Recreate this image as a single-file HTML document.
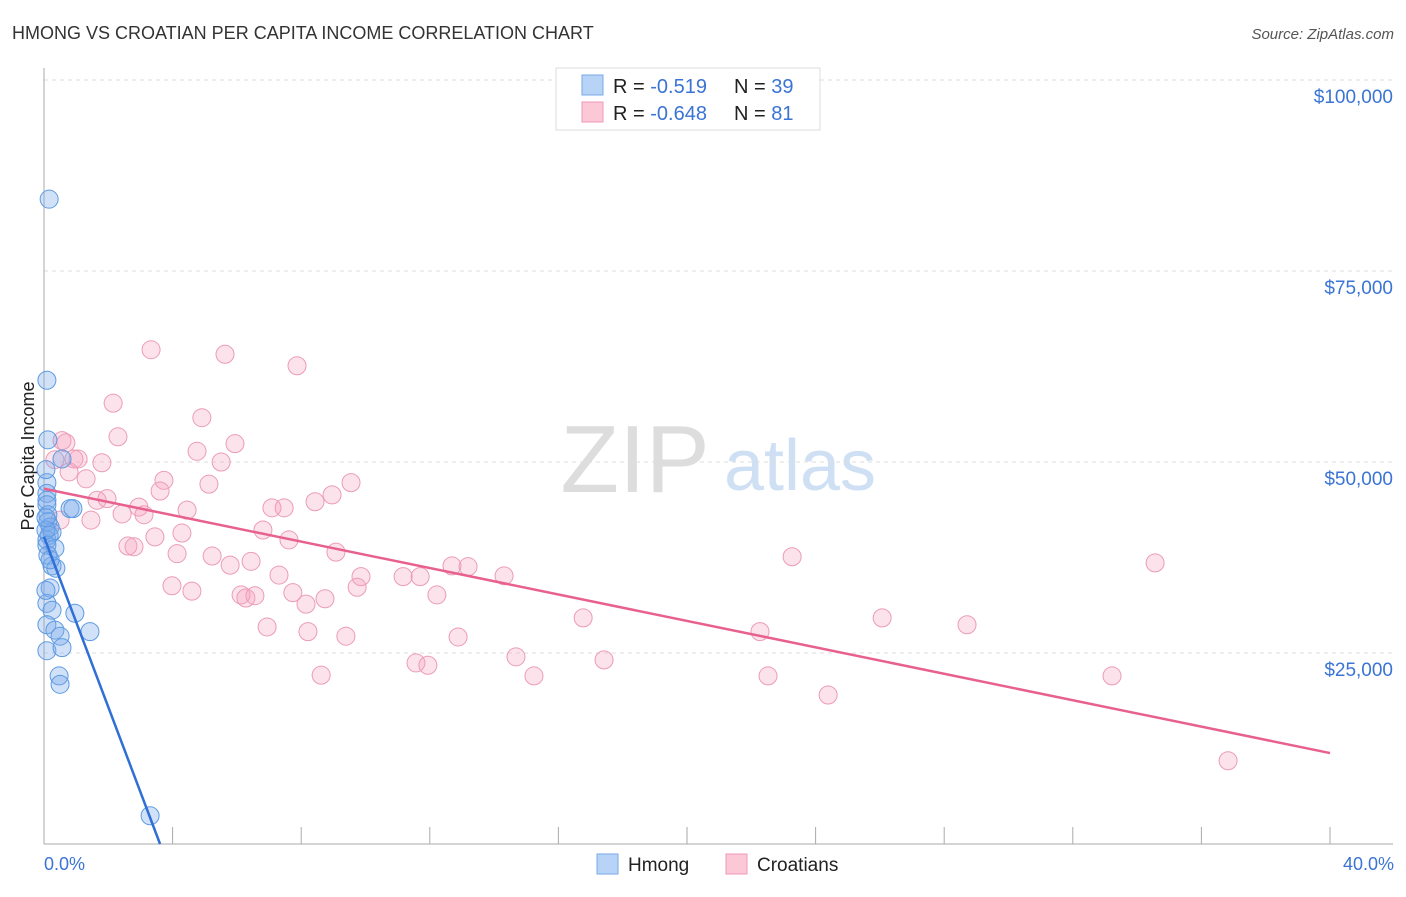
<!DOCTYPE html>
<html><head><meta charset="utf-8"><style>
body{margin:0;background:#fff;font-family:"Liberation Sans",sans-serif;}
svg text{font-family:"Liberation Sans",sans-serif;}
</style></head><body>
<svg width="1406" height="892" viewBox="0 0 1406 892">
<text x="12" y="39" font-size="18" fill="#333">HMONG VS CROATIAN PER CAPITA INCOME CORRELATION CHART</text>
<text x="1394" y="39" font-size="15" fill="#555" font-style="italic" text-anchor="end">Source: ZipAtlas.com</text>
<text x="635" y="492" font-size="96" fill="#ddd" font-family="Liberation Serif" text-anchor="middle">ZIP</text>
<text x="800" y="490" font-size="72" fill="#cfe0f4" text-anchor="middle">atlas</text>
<g id="grid"></g>
<g id="axes"></g>
<text transform="translate(34,456) rotate(-90)" font-size="18" fill="#222" text-anchor="middle">Per Capita Income</text>
<g id="marks"></g>
<g>
<rect x="556" y="68" width="264" height="62" fill="#fff" stroke="#ddd"/>
<rect x="582" y="75" width="21" height="20" fill="#b7d3f6" stroke="#7aaae8"/>
<rect x="582" y="102" width="21" height="20" fill="#fcc7d6" stroke="#f09ab6"/>
<text x="613" y="93" font-size="20" fill="#222">R = <tspan fill="#3a74d4"> -0.519</tspan></text>
<text x="734" y="93" font-size="20" fill="#222">N = <tspan fill="#3a74d4">39</tspan></text>
<text x="613" y="120" font-size="20" fill="#222">R = <tspan fill="#3a74d4">-0.648</tspan></text>
<text x="734" y="120" font-size="20" fill="#222">N = <tspan fill="#3a74d4"> 81</tspan></text>
</g>
<g>
<rect x="597" y="854" width="21" height="20" fill="#b7d3f6" stroke="#7aaae8"/>
<text x="628" y="871" font-size="19" fill="#222">Hmong</text>
<rect x="726" y="854" width="21" height="20" fill="#fcc7d6" stroke="#f09ab6"/>
<text x="757" y="871" font-size="19" fill="#222">Croatians</text>
</g>
<text x="44" y="870" font-size="18" fill="#3a74d4">0.0%</text>
<text x="1394" y="870" font-size="18" fill="#3a74d4" text-anchor="end">40.0%</text>
</svg>
<script>
const yTicks=[25000,50000,75000,100000];
const yTickLabels=["$25,000","$50,000","$75,000","$100,000"];
const xTicks=[0,4,8,12,16,20,24,28,32,36,40];
const hmongX=[0.16,0.09,0.12,0.09,0.09,0.09,0.09,0.12,0.12,0.19,0.25,0.09,0.16,0.34,0.25,0.37,0.19,0.09,0.25,0.96,0.09,0.34,1.43,0.5,0.09,0.56,0.47,0.5,3.3,0.81,0.9,0.09,0.12,0.06,0.56,0.06,0.19,0.06,0.06];
const hmongY=[84.4,60.7,52.9,47.3,45.9,45.0,44.4,43.1,42.2,41.5,40.8,39.8,40.4,38.7,36.4,36.1,33.5,31.5,30.6,30.2,28.7,28.0,27.8,27.2,25.3,25.7,22.0,20.9,3.7,43.9,43.9,39.1,37.8,41.1,50.4,42.7,37.2,33.2,49.0];
const croX=[3.33,5.63,7.87,2.15,4.91,2.3,5.94,0.56,0.68,4.76,0.93,1.06,5.51,1.8,0.78,1.31,3.73,9.55,5.13,3.61,8.96,8.43,1.65,1.96,7.09,7.47,4.45,2.95,2.43,3.11,1.46,6.81,4.29,7.62,3.45,2.61,2.8,9.08,23.27,34.56,5.23,4.14,6.44,5.79,7.31,9.86,11.17,11.7,12.69,13.19,14.31,3.98,4.6,9.74,7.74,6.13,6.56,8.74,6.28,8.15,12.22,16.77,26.07,28.71,6.94,8.21,9.39,12.88,22.27,11.57,11.94,14.68,17.42,8.62,15.24,22.52,33.22,24.39,36.83,0.34,0.5];
const croY=[64.7,64.1,62.6,57.7,55.8,53.3,52.4,52.8,52.5,51.4,50.4,50.4,50.0,49.9,48.7,47.8,47.6,47.3,47.1,46.2,45.7,44.8,45.0,45.2,44.0,44.0,43.7,44.1,43.2,43.1,42.4,41.1,40.7,39.8,40.2,39.0,38.9,38.2,37.6,36.8,37.7,38.0,37.0,36.5,35.2,35.0,35.0,35.0,36.4,36.3,35.1,33.8,33.1,33.6,32.9,32.6,32.5,32.1,32.2,31.4,32.6,29.6,29.6,28.7,28.4,27.8,27.2,27.1,27.8,23.7,23.4,24.5,24.1,22.1,22.0,22.0,22.0,19.5,10.9,50.3,42.4];
const hmongTrend=[[0,40.2],[3.61,0]];
const croTrend=[[0,46.5],[40,11.9]];
const NS="http://www.w3.org/2000/svg";
const X=v=>44+v*(1330-44)/40;
const Y=k=>844-k*1000*(844-80)/100000;
function mk(tag,attrs,parent){const e=document.createElementNS(NS,tag);for(const k in attrs)e.setAttribute(k,attrs[k]);parent.appendChild(e);return e;}
const grid=document.getElementById('grid'),axes=document.getElementById('axes'),marks=document.getElementById('marks');
yTicks.forEach((t,i)=>{
 const l=mk('line',{x1:44,x2:1393,y1:Y(t/1000),y2:Y(t/1000),stroke:'#ddd','stroke-dasharray':'4,4'},grid);
 
 
 const tx=mk('text',{x:1393,y:Y(t/1000)+23,'font-size':19,fill:'#3a74d4','text-anchor':'end'},grid);
 tx.textContent=yTickLabels[i];
 
 
});
const ya=mk('line',{x1:44,x2:44,y1:68,y2:844,stroke:'#aaa'},axes);


const xa=mk('line',{x1:44,x2:1393,y1:844,y2:844,stroke:'#aaa'},axes);


xTicks.forEach(t=>{
 const l=mk('line',{x1:X(t),x2:X(t),y1:827,y2:844,stroke:'#aaa'},axes);
 
 
});
croX.forEach((x,i)=>{
 const c=mk('circle',{cx:X(x),cy:Y(croY[i]),r:9,fill:'rgba(246,160,188,0.3)',stroke:'#ec9cb6','stroke-width':1},marks);
 
 
});
hmongX.forEach((x,i)=>{
 const c=mk('circle',{cx:X(x),cy:Y(hmongY[i]),r:9,fill:'rgba(120,170,235,0.35)',stroke:'#5e9be2','stroke-width':1},marks);
 
 
});
const pl=mk('line',{x1:X(croTrend[0][0]),y1:Y(croTrend[0][1]),x2:X(croTrend[1][0]),y2:Y(croTrend[1][1]),stroke:'#e8608e','stroke-width':2.5},marks);


const bl=mk('line',{x1:X(hmongTrend[0][0]),y1:Y(hmongTrend[0][1]),x2:X(hmongTrend[1][0]),y2:Y(hmongTrend[1][1]),stroke:'#2f6fd6','stroke-width':2.5},marks);


</script>
</body></html>
